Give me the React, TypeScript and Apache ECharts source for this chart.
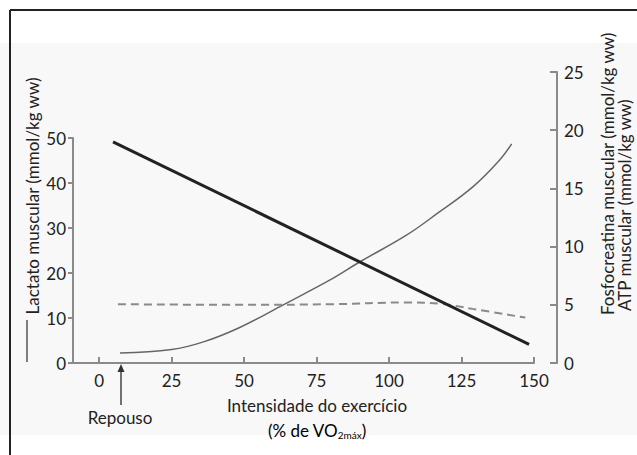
import React, { useEffect, useRef } from "react";
import * as echarts from "echarts";

const xTicks = [0, 25, 50, 75, 100, 125, 150];
const lactate: [number, number][] = [
  [7.2, 2.2], [25, 3.0], [36, 4.7], [48.5, 7.9], [64, 13.1], [79.5, 18.4],
  [90, 22.5], [106, 28.4], [117, 33.4], [129, 39.2], [138, 45.0], [142.3, 48.7],
];
const phosphocreatine: [number, number][] = [[4.8, 19.0], [148.3, 1.6]];
const atp: [number, number][] = [
  [6.5, 5.05], [48.5, 5.0], [80, 5.05], [105.8, 5.2], [117.3, 5.1], [128.8, 4.65], [147, 3.9],
];

const FONT = "Lato";
const FS = 17;
const AX = "#8a8a8a";

export default function App() {
  const ref = useRef<HTMLDivElement>(null);
  useEffect(() => {
    const chart = echarts.init(ref.current!, undefined, { renderer: "svg" });
    const axisLabel = { color: "#222", fontSize: FS, fontFamily: FONT };
    chart.setOption({
      animation: false,
      backgroundColor: "#fff",
      grid: [
        { left: 73, right: 103, top: 72, bottom: 92 },
        { left: 73, right: 103, top: 138, bottom: 92 },
      ],
      xAxis: [
        {
          type: "value", gridIndex: 0, min: -9, max: 150,
          axisLine: { onZero: false, lineStyle: { color: AX, width: 2 } },
          axisTick: { inside: true, length: 6, lineStyle: { color: AX, width: 2 }, customValues: xTicks },
          axisLabel: { ...axisLabel, margin: 9, customValues: xTicks },
          splitLine: { show: false },
        },
        {
          type: "value", gridIndex: 1, min: -9, max: 150, show: false,
        },
      ],
      yAxis: [
        {
          type: "value", gridIndex: 0, position: "right", offset: 23, min: 0, max: 25, interval: 5,
          axisLine: { show: true, onZero: false, lineStyle: { color: AX, width: 2 } },
          axisTick: { show: true, inside: true, length: 7, lineStyle: { color: AX, width: 2 } },
          axisLabel: { ...axisLabel, margin: 7 },
          splitLine: { show: false },
        },
        {
          type: "value", gridIndex: 1, position: "left", min: 0, max: 50, interval: 10,
          axisLine: { show: true, onZero: false, lineStyle: { color: AX, width: 2 } },
          axisTick: { show: true, length: 5, lineStyle: { color: AX, width: 2 } },
          axisLabel: { ...axisLabel, margin: 7 },
          splitLine: { show: false },
        },
      ],
      series: [
        {
          type: "line", xAxisIndex: 1, yAxisIndex: 1, data: lactate, smooth: 0.4,
          showSymbol: false, lineStyle: { color: "#666", width: 1.5 },
        },
        {
          type: "line", xAxisIndex: 0, yAxisIndex: 0, data: atp, smooth: 0.4,
          showSymbol: false, lineStyle: { color: "#8a8a8a", width: 2, type: [8, 5] },
        },
        {
          type: "line", xAxisIndex: 0, yAxisIndex: 0, data: phosphocreatine,
          showSymbol: false, lineStyle: { color: "#222", width: 3 },
        },
      ],
      graphic: [
        { type: "rect", z: -10, shape: { x: 0, y: 43, width: 637, height: 392 }, style: { fill: "#f8f8f8" }, silent: true },
        { type: "line", shape: { x1: 10, y1: 10, x2: 637, y2: 10 }, style: { stroke: "#222", lineWidth: 2 } },
        { type: "line", shape: { x1: 10, y1: 10, x2: 10, y2: 455 }, style: { stroke: "#222", lineWidth: 2 } },
        {
          type: "text", x: 32, y: 196, rotation: Math.PI / 2,
          style: { text: "Lactato muscular (mmol/kg ww)", fill: "#222", font: `${FS}px ${FONT}`, align: "center", verticalAlign: "middle" },
        },
        { type: "line", shape: { x1: 27, y1: 320, x2: 27, y2: 362 }, style: { stroke: "#555", lineWidth: 1.5 } },
        {
          type: "text", x: 607, y: 315, rotation: Math.PI / 2,
          style: { text: "Fosfocreatina muscular (mmol/kg ww)", fill: "#222", font: `${FS}px ${FONT}`, align: "left", verticalAlign: "middle" },
        },
        {
          type: "text", x: 624, y: 311, rotation: Math.PI / 2,
          style: { text: "ATP muscular (mmol/kg ww)", fill: "#222", font: `${FS}px ${FONT}`, align: "left", verticalAlign: "middle" },
        },
        {
          type: "text", x: 317, y: 405,
          style: { text: "Intensidade do exercício", fill: "#222", font: `${FS}px ${FONT}`, align: "center", verticalAlign: "middle" },
        },
        {
          type: "text", x: 317, y: 430,
          style: {
            text: "{a|(% de VO}{s|2máx}{a|)}", align: "center", verticalAlign: "middle",
            rich: {
              a: { fontSize: FS, fontFamily: FONT, color: "#222" },
              s: { fontSize: 10, fontFamily: FONT, color: "#222", padding: [10, 0, 0, 0] },
            },
          },
        },
        {
          type: "text", x: 120, y: 417,
          style: { text: "Repouso", fill: "#222", font: `${FS}px ${FONT}`, align: "center", verticalAlign: "middle" },
        },
        { type: "line", shape: { x1: 121, y1: 405, x2: 121, y2: 370 }, style: { stroke: "#444", lineWidth: 1.5 } },
        { type: "polygon", shape: { points: [[121, 364], [117.5, 372], [124.5, 372]] }, style: { fill: "#333" } },
      ],
    });
    return () => chart.dispose();
  }, []);
  return <div ref={ref} style={{ position: "fixed", left: 0, top: 0, width: 637, height: 455 }} />;
}
